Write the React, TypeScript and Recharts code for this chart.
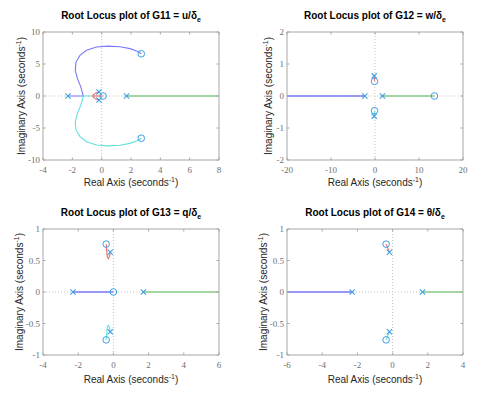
import React from 'react';
import { ComposedChart, Line, Scatter, XAxis, YAxis, ReferenceLine } from 'recharts';

type P = { x: number; y: number };

// ---------- G11 = u/δe ----------
const g11XTicks = [-4, -2, 0, 2, 4, 6, 8];
const g11YTicks = [-10, -5, 0, 5, 10];
const g11Blue: P[] = [
  { x: -2.3, y: 0 }, { x: -1.25, y: 0 }, { x: -1.43, y: 1.46 }, { x: -1.66, y: 2.76 }, { x: -1.8, y: 4.06 },
  { x: -1.75, y: 5.3 }, { x: -1.48, y: 6.35 }, { x: -1.03, y: 7.15 }, { x: -0.35, y: 7.65 }, { x: 0.45, y: 7.8 },
  { x: 1.25, y: 7.7 }, { x: 1.93, y: 7.4 }, { x: 2.43, y: 7.0 }, { x: 2.7, y: 6.6 },
];
const g11Cyan: P[] = [
  { x: -0.6, y: 0 }, { x: -1.25, y: 0 }, { x: -1.43, y: -1.46 }, { x: -1.66, y: -2.76 }, { x: -1.8, y: -4.06 },
  { x: -1.75, y: -5.3 }, { x: -1.48, y: -6.35 }, { x: -1.03, y: -7.15 }, { x: -0.35, y: -7.65 }, { x: 0.45, y: -7.8 },
  { x: 1.25, y: -7.7 }, { x: 1.93, y: -7.4 }, { x: 2.43, y: -7.0 }, { x: 2.7, y: -6.6 },
];
const g11Red: P[] = [
  { x: -0.2, y: 0.62 }, { x: -0.42, y: 0.45 }, { x: -0.56, y: 0.22 }, { x: -0.6, y: 0 },
  { x: -0.56, y: -0.22 }, { x: -0.42, y: -0.45 }, { x: -0.2, y: -0.62 },
];
const g11RedAxis: P[] = [{ x: -0.6, y: 0 }, { x: 0.1, y: 0 }];
const g11Green: P[] = [{ x: 1.7, y: 0 }, { x: 8, y: 0 }];
const g11Poles: P[] = [{ x: -2.3, y: 0 }, { x: 1.7, y: 0 }, { x: -0.18, y: 0.63 }, { x: -0.18, y: -0.63 }];
const g11Zeros: P[] = [{ x: 0.1, y: 0 }, { x: 2.7, y: 6.6 }, { x: 2.7, y: -6.6 }];

// ---------- G12 = w/δe ----------
const g12XTicks = [-20, -10, 0, 10, 20];
const g12YTicks = [-2, -1, 0, 1, 2];
const g12Blue: P[] = [{ x: -2.3, y: 0 }, { x: -20, y: 0 }];
const g12Green: P[] = [{ x: 1.7, y: 0 }, { x: 13.5, y: 0 }];
const g12Red: P[] = [{ x: -0.18, y: 0.63 }, { x: -0.1, y: 0.46 }];
const g12Cyan: P[] = [{ x: -0.18, y: -0.63 }, { x: -0.1, y: -0.46 }];
const g12Poles: P[] = [{ x: -2.3, y: 0 }, { x: 1.7, y: 0 }, { x: -0.18, y: 0.63 }, { x: -0.18, y: -0.63 }];
const g12Zeros: P[] = [{ x: 13.5, y: 0 }, { x: -0.1, y: 0.46 }, { x: -0.1, y: -0.46 }];

// ---------- G13 = q/δe ----------
const g13XTicks = [-4, -2, 0, 2, 4, 6];
const g13YTicks = [-1, -0.5, 0, 0.5, 1];
const g13Blue: P[] = [{ x: -2.3, y: 0 }, { x: 0, y: 0 }];
const g13Green: P[] = [{ x: 1.7, y: 0 }, { x: 6, y: 0 }];
const g13Red: P[] = [
  { x: -0.18, y: 0.63 }, { x: -0.22, y: 0.57 }, { x: -0.28, y: 0.53 }, { x: -0.34, y: 0.55 },
  { x: -0.37, y: 0.62 }, { x: -0.39, y: 0.7 }, { x: -0.41, y: 0.76 },
];
const g13Cyan: P[] = [
  { x: -0.18, y: -0.63 }, { x: -0.22, y: -0.57 }, { x: -0.28, y: -0.53 }, { x: -0.34, y: -0.55 },
  { x: -0.37, y: -0.62 }, { x: -0.39, y: -0.7 }, { x: -0.41, y: -0.76 },
];
const g13Poles: P[] = [{ x: -2.3, y: 0 }, { x: 1.7, y: 0 }, { x: -0.18, y: 0.63 }, { x: -0.18, y: -0.63 }];
const g13Zeros: P[] = [{ x: 0, y: 0 }, { x: -0.41, y: 0.76 }, { x: -0.41, y: -0.76 }];

// ---------- G14 = θ/δe ----------
const g14XTicks = [-6, -4, -2, 0, 2, 4];
const g14YTicks = [-1, -0.5, 0, 0.5, 1];
const g14Blue: P[] = [{ x: -2.3, y: 0 }, { x: -6, y: 0 }];
const g14Green: P[] = [{ x: 1.7, y: 0 }, { x: 4, y: 0 }];
const g14Red: P[] = [{ x: -0.18, y: 0.63 }, { x: -0.37, y: 0.76 }];
const g14Cyan: P[] = [{ x: -0.18, y: -0.63 }, { x: -0.37, y: -0.76 }];
const g14Poles: P[] = [{ x: -2.3, y: 0 }, { x: 1.7, y: 0 }, { x: -0.18, y: 0.63 }, { x: -0.18, y: -0.63 }];
const g14Zeros: P[] = [{ x: -0.37, y: 0.76 }, { x: -0.37, y: -0.76 }];

const BOX = '#a6a6a6';
const TICK_TXT = '#707070';
const ZERO_LINE = '#c4c4c4';
const MK = '#3f9ee0';
const BLUE = '#7a7af5';
const CYAN = '#66dede';
const RED = '#f06868';
const GREEN = '#a3d4a3';
const SERIF = '"Liberation Serif", "Times New Roman", serif';
const SANS = '"Liberation Sans", Arial, sans-serif';
const TM_X = 7;
const TM_Y = 3;

const ZeroShape = (p: any) => (
  <circle cx={p.cx} cy={p.cy} r={3.3} fill="none" stroke={MK} strokeWidth={1} />
);
const PoleShape = (p: any) => {
  const s = 2.6;
  return (
    <g stroke={MK} strokeWidth={1.1}>
      <line x1={p.cx - s} y1={p.cy - s} x2={p.cx + s} y2={p.cy + s} />
      <line x1={p.cx - s} y1={p.cy + s} x2={p.cx + s} y2={p.cy - s} />
    </g>
  );
};

type Series = { data: P[]; color: string; width: number };

type Cfg = {
  left: number; top: number; w: number; h: number;
  margin: { top: number; right: number; bottom: number; left: number };
  xDomain: [number, number]; yDomain: [number, number];
  xTicks: number[]; yTicks: number[];
  series: Series[]; poles: P[]; zeros: P[];
  name: string; varName: string;
  titleY: number; xLabelY: number; yLabelX: number;
};

const Subplot = ({ c }: { c: Cfg }) => {
  const yAxisW = 30;
  const xAxisH = 30;
  const plotL = c.margin.left + yAxisW;
  const plotW = c.w - plotL - c.margin.right;
  const plotT = c.margin.top;
  const plotH = c.h - c.margin.top - c.margin.bottom - xAxisH;
  const cx = plotL + plotW / 2;
  const cy = plotT + plotH / 2;

  const BottomTick = (props: any) => {
    const { x, y, payload } = props;
    const ay = y - TM_X;
    return (
      <g>
        <line x1={x} x2={x} y1={ay} y2={ay - 2.5} stroke={BOX} />
        <line x1={x} x2={x} y1={ay - plotH} y2={ay - plotH + 2.5} stroke={BOX} />
        <text x={x} y={y} dy="0.71em" textAnchor="middle" fill={TICK_TXT} style={{ fontFamily: SERIF }} fontSize={9}>
          {String(payload.value)}
        </text>
      </g>
    );
  };
  const LeftTick = (props: any) => {
    const { x, y, payload } = props;
    const ax = x + TM_Y;
    return (
      <g>
        <line x1={ax} x2={ax + 2.5} y1={y} y2={y} stroke={BOX} />
        <line x1={ax + plotW} x2={ax + plotW - 2.5} y1={y} y2={y} stroke={BOX} />
        <text x={x} y={y} dy="0.35em" textAnchor="end" fill={TICK_TXT} style={{ fontFamily: SERIF }} fontSize={9}>
          {String(payload.value)}
        </text>
      </g>
    );
  };

  return (
    <div style={{ position: 'absolute', left: c.left, top: c.top, width: c.w, height: c.h }}>
      <ComposedChart width={c.w} height={c.h} margin={c.margin}>
        <XAxis
          dataKey="x" type="number" domain={c.xDomain} ticks={c.xTicks} allowDataOverflow
          height={xAxisH} tickSize={0} tickMargin={TM_X} tickLine={false}
          axisLine={{ stroke: BOX }} tick={BottomTick} interval={0}
        />
        <YAxis
          dataKey="y" type="number" domain={c.yDomain} ticks={c.yTicks} allowDataOverflow
          width={yAxisW} tickSize={0} tickMargin={TM_Y} tickLine={false}
          axisLine={{ stroke: BOX }} tick={LeftTick} interval={0}
        />
        <ReferenceLine x={0} stroke={ZERO_LINE} strokeDasharray="1 2" />
        <ReferenceLine y={0} stroke={ZERO_LINE} strokeDasharray="1 2" />
        <ReferenceLine x={c.xDomain[1]} stroke={BOX} />
        <ReferenceLine y={c.yDomain[1]} stroke={BOX} />
        {c.series.map((s, i) => (
          <Line
            key={i} data={s.data} dataKey="y" stroke={s.color} strokeWidth={s.width}
            dot={false} activeDot={false} isAnimationActive={false} type="linear"
          />
        ))}
        <Scatter data={c.zeros} shape={ZeroShape} isAnimationActive={false} />
        <Scatter data={c.poles} shape={PoleShape} isAnimationActive={false} />
      </ComposedChart>
      <div
        style={{
          position: 'absolute', left: cx, top: c.titleY, transform: 'translate(-50%, -50%)',
          whiteSpace: 'nowrap', fontFamily: SANS, fontWeight: 'bold', fontSize: 10, color: '#000', lineHeight: '12px',
        }}
      >
        Root Locus plot of {c.name} = {c.varName}/δ
        <span style={{ fontSize: 7, position: 'relative', top: 3 }}>e</span>
      </div>
      <div
        style={{
          position: 'absolute', left: cx, top: c.xLabelY, transform: 'translate(-50%, -50%)',
          whiteSpace: 'nowrap', fontFamily: SANS, fontSize: 10, color: '#262626', lineHeight: '12px',
        }}
      >
        Real Axis (seconds<span style={{ fontSize: 7, position: 'relative', top: -4 }}>-1</span>)
      </div>
      <div
        style={{
          position: 'absolute', left: c.yLabelX, top: cy, transform: 'translate(-50%, -50%) rotate(-90deg)',
          whiteSpace: 'nowrap', fontFamily: SANS, fontSize: 10, color: '#262626', lineHeight: '12px',
        }}
      >
        Imaginary Axis (seconds<span style={{ fontSize: 7, position: 'relative', top: -4 }}>-1</span>)
      </div>
    </div>
  );
};

const cfgs: Cfg[] = [
  {
    left: 0, top: 0, w: 240, h: 200, margin: { top: 32, right: 21, bottom: 10, left: 13 },
    xDomain: [-4, 8], yDomain: [-10, 10], xTicks: g11XTicks, yTicks: g11YTicks,
    series: [
      { data: g11Green, color: GREEN, width: 2 },
      { data: g11Blue, color: BLUE, width: 1.1 },
      { data: g11Cyan, color: CYAN, width: 1.1 },
      { data: g11Red, color: RED, width: 1.1 },
      { data: g11RedAxis, color: RED, width: 1.1 },
    ],
    poles: g11Poles, zeros: g11Zeros, name: 'G11', varName: 'u',
    titleY: 16, xLabelY: 183, yLabelX: 22,
  },
  {
    left: 240, top: 0, w: 240, h: 200, margin: { top: 32, right: 17, bottom: 10, left: 17 },
    xDomain: [-20, 20], yDomain: [-2, 2], xTicks: g12XTicks, yTicks: g12YTicks,
    series: [
      { data: g12Green, color: GREEN, width: 2 },
      { data: g12Blue, color: BLUE, width: 1.5 },
      { data: g12Red, color: RED, width: 1.1 },
      { data: g12Cyan, color: CYAN, width: 1.1 },
    ],
    poles: g12Poles, zeros: g12Zeros, name: 'G12', varName: 'w',
    titleY: 16, xLabelY: 183, yLabelX: 29,
  },
  {
    left: 0, top: 200, w: 240, h: 194, margin: { top: 29, right: 21, bottom: 9, left: 13 },
    xDomain: [-4, 6], yDomain: [-1, 1], xTicks: g13XTicks, yTicks: g13YTicks,
    series: [
      { data: g13Green, color: GREEN, width: 2 },
      { data: g13Blue, color: BLUE, width: 1.5 },
      { data: g13Red, color: RED, width: 1.1 },
      { data: g13Cyan, color: CYAN, width: 1.1 },
    ],
    poles: g13Poles, zeros: g13Zeros, name: 'G13', varName: 'q',
    titleY: 13, xLabelY: 180, yLabelX: 20,
  },
  {
    left: 240, top: 200, w: 240, h: 194, margin: { top: 29, right: 17, bottom: 9, left: 17 },
    xDomain: [-6, 4], yDomain: [-1, 1], xTicks: g14XTicks, yTicks: g14YTicks,
    series: [
      { data: g14Green, color: GREEN, width: 2 },
      { data: g14Blue, color: BLUE, width: 1.5 },
      { data: g14Red, color: RED, width: 1.1 },
      { data: g14Cyan, color: CYAN, width: 1.1 },
    ],
    poles: g14Poles, zeros: g14Zeros, name: 'G14', varName: 'θ',
    titleY: 13, xLabelY: 180, yLabelX: 24,
  },
];

export default function App() {
  return (
    <div style={{ position: 'absolute', left: 0, top: 0, width: 480, height: 394, background: '#fff', overflow: 'hidden' }}>
      {cfgs.map((c, i) => (
        <Subplot key={i} c={c} />
      ))}
    </div>
  );
}
